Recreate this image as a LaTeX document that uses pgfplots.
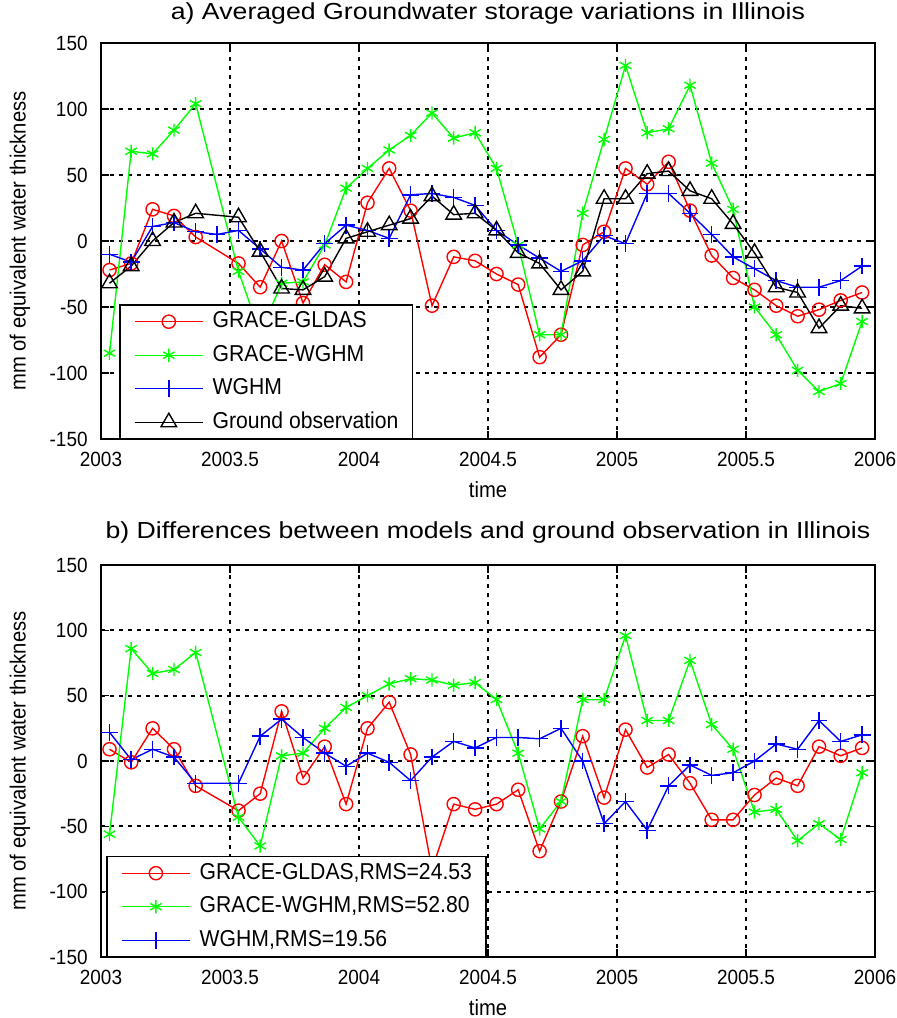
\documentclass[border=0pt]{standalone}
\usepackage{fontspec}
\setmainfont[FakeStretch=0.92]{Liberation Sans}
\newfontfamily\titlefont[FakeStretch=1.15]{Liberation Sans}
\usepackage{pgfplots}
\pgfplotsset{compat=1.18}
\pgfplotsset{
 mstyle/.style={
  scale only axis, width=387pt,
  xmin=2003, xmax=2006, ymin=-150, ymax=150,
  xtick={2003,2003.5,2004,2004.5,2005,2005.5,2006},
  xticklabels={2003,2003.5,2004,2004.5,2005,2005.5,2006},
  ytick={-150,-100,-50,0,50,100,150},
  /pgf/number format/assume math mode=true,
  ticklabel style={font=\fontsize{10.3}{12}\selectfont},
  xticklabel style={inner sep=0pt, yshift=-6.5pt},
  yticklabel style={inner sep=0pt, xshift=-6.5pt},
  tick align=inside, major tick length=4pt, tick style={black, line width=0.6pt},
  xmajorgrids, ymajorgrids,
  major grid style={black, line width=0.9pt, dash pattern=on 2pt off 2.5pt},
  axis line style={line width=1pt},
  xlabel={time}, ylabel={mm of equivalent water thickness},
  xlabel style={at={(axis description cs:0.5,0)}, anchor=center, yshift=-25.5pt, font=\fontsize{11}{13}\selectfont},
  ylabel style={at={(axis description cs:-0.1047,0.5)}, anchor=center, font=\fontsize{11}{13}\selectfont},
  title style={at={(axis description cs:0.5,1)}, anchor=base, font=\titlefont\fontsize{11.6}{14}\selectfont},
  legend cell align=left,
  legend style={draw=black, line width=0.8pt, fill=white, inner xsep=7pt, inner ysep=2.9pt, outer sep=0pt,
    font=\fontsize{11.5}{14}\selectfont, nodes={inner sep=0pt, text height=8.5pt, text depth=2.5pt},
    row sep=5.75pt, column sep=4.5pt, anchor=south west},
  legend image code/.code={\draw[mark repeat=2,mark phase=2,#1] plot coordinates {(0cm,0cm) (0.6cm,0cm) (1.2cm,0cm)};},
  every axis plot/.append style={line width=0.7pt},
 },
 sred/.style={red, mark=o, mark size=3.3pt},
 sgreen/.style={green, mark=asterisk, mark size=3.3pt},
 sblue/.style={blue, mark=+, mark size=4.2pt},
 sblack/.style={black, mark=triangle, mark size=4.5pt},
}
\begin{document}
\begin{tikzpicture}
\useasboundingbox (-50.5pt,-289.5pt) rectangle (398pt,219.5pt);
\begin{axis}[mstyle, height=198pt, at={(0pt,0pt)}, anchor=south west,
  title={a) Averaged Groundwater storage variations in Illinois}, title style={yshift=6pt},
  legend style={at={(axis description cs:0.0245,0)}}]
\addplot[sred] coordinates {(2003.033,-22)(2003.117,-17)(2003.2,24)(2003.283,19)(2003.367,3)(2003.533,-17)(2003.617,-35)(2003.7,0)(2003.783,-47)(2003.867,-18)(2003.95,-31)(2004.033,29)(2004.117,55)(2004.2,23)(2004.283,-49)(2004.367,-12)(2004.45,-15)(2004.533,-25)(2004.617,-33)(2004.7,-88)(2004.783,-71)(2004.867,-3)(2004.95,7)(2005.033,55)(2005.117,43)(2005.2,60)(2005.283,23)(2005.367,-11)(2005.45,-28)(2005.533,-37)(2005.617,-49)(2005.7,-57)(2005.783,-52)(2005.867,-45)(2005.95,-39)};
\addlegendentry{GRACE-GLDAS}
\addplot[sgreen] coordinates {(2003.033,-85)(2003.117,68)(2003.2,66)(2003.283,84)(2003.367,104)(2003.533,-23)(2003.617,-70)(2003.7,-32)(2003.783,-31)(2003.867,-3)(2003.95,40)(2004.033,55)(2004.117,69)(2004.2,80)(2004.283,97)(2004.367,78)(2004.45,82)(2004.533,55)(2004.617,-3)(2004.7,-71)(2004.783,-71)(2004.867,21)(2004.95,77)(2005.033,133)(2005.117,82)(2005.2,85)(2005.283,118)(2005.367,59)(2005.45,24)(2005.533,-50)(2005.617,-71)(2005.7,-98)(2005.783,-114)(2005.867,-108)(2005.95,-61)};
\addlegendentry{GRACE-WGHM}
\addplot[sblue] coordinates {(2003.033,-10)(2003.117,-16)(2003.2,11)(2003.283,14)(2003.367,7)(2003.45,5)(2003.533,8)(2003.617,-6)(2003.7,-20)(2003.783,-22)(2003.867,-2)(2003.95,12)(2004.033,8)(2004.117,2)(2004.2,35)(2004.283,36)(2004.367,33)(2004.45,27)(2004.533,8)(2004.617,-3)(2004.7,-13)(2004.783,-23)(2004.867,-15)(2004.95,4)(2005.033,-2)(2005.117,36)(2005.2,36)(2005.283,21)(2005.367,5)(2005.45,-12)(2005.533,-21)(2005.617,-30)(2005.7,-35)(2005.783,-35)(2005.867,-30)(2005.95,-19)};
\addlegendentry{WGHM}
\addplot[sblack] coordinates {(2003.033,-32)(2003.117,-19)(2003.2,0)(2003.283,14)(2003.367,21)(2003.533,18)(2003.617,-8)(2003.7,-36)(2003.783,-37)(2003.867,-27)(2003.95,2)(2004.033,7)(2004.117,12)(2004.2,17)(2004.283,34)(2004.367,20)(2004.45,21)(2004.533,8)(2004.617,-9)(2004.7,-17)(2004.783,-37)(2004.867,-23)(2004.95,32)(2005.033,32)(2005.117,51)(2005.2,53)(2005.283,38)(2005.367,32)(2005.45,13)(2005.533,-9)(2005.617,-35)(2005.7,-39)(2005.783,-66)(2005.867,-49)(2005.95,-51)};
\addlegendentry{Ground observation}
\end{axis}
\begin{axis}[mstyle, height=196pt, at={(0pt,-259pt)}, anchor=south west,
  title={b) Differences between models and ground observation in Illinois}, title style={yshift=7.5pt},
  legend style={at={(axis description cs:0.0078,0)}}]
\addplot[sred] coordinates {(2003.033,9)(2003.117,-1)(2003.2,25)(2003.283,9)(2003.367,-19)(2003.533,-38)(2003.617,-25)(2003.7,38)(2003.783,-13)(2003.867,11)(2003.95,-33)(2004.033,25)(2004.117,45)(2004.2,5)(2004.283,-83)(2004.367,-33)(2004.45,-37)(2004.533,-33)(2004.617,-22)(2004.7,-69)(2004.783,-31)(2004.867,19)(2004.95,-28)(2005.033,24)(2005.117,-5)(2005.2,5)(2005.283,-17)(2005.367,-45)(2005.45,-45)(2005.533,-26)(2005.617,-13)(2005.7,-19)(2005.783,11)(2005.867,4)(2005.95,10)};
\addlegendentry{GRACE-GLDAS,RMS=24.53}
\addplot[sgreen] coordinates {(2003.033,-56)(2003.117,86)(2003.2,67)(2003.283,70)(2003.367,83)(2003.533,-43)(2003.617,-65)(2003.7,4)(2003.783,6)(2003.867,25)(2003.95,41)(2004.033,50)(2004.117,59)(2004.2,63)(2004.283,62)(2004.367,58)(2004.45,60)(2004.533,47)(2004.617,6)(2004.7,-52)(2004.783,-31)(2004.867,47)(2004.95,47)(2005.033,96)(2005.117,31)(2005.2,31)(2005.283,77)(2005.367,28)(2005.45,9)(2005.533,-39)(2005.617,-37)(2005.7,-61)(2005.783,-48)(2005.867,-60)(2005.95,-9)};
\addlegendentry{GRACE-WGHM,RMS=52.80}
\addplot[sblue] coordinates {(2003.033,22)(2003.117,1)(2003.2,9)(2003.283,3)(2003.367,-17)(2003.533,-17)(2003.617,19)(2003.7,32)(2003.783,18)(2003.867,6)(2003.95,-4)(2004.033,6)(2004.117,-1)(2004.2,-15)(2004.283,3)(2004.367,15)(2004.45,10)(2004.533,18)(2004.617,18)(2004.7,17)(2004.783,25)(2004.867,0)(2004.95,-48)(2005.033,-31)(2005.117,-53)(2005.2,-19)(2005.283,-3)(2005.367,-11)(2005.45,-9)(2005.533,0)(2005.617,13)(2005.7,9)(2005.783,31)(2005.867,15)(2005.95,20)};
\addlegendentry{WGHM,RMS=19.56}
\end{axis}
\end{tikzpicture}
\end{document}
